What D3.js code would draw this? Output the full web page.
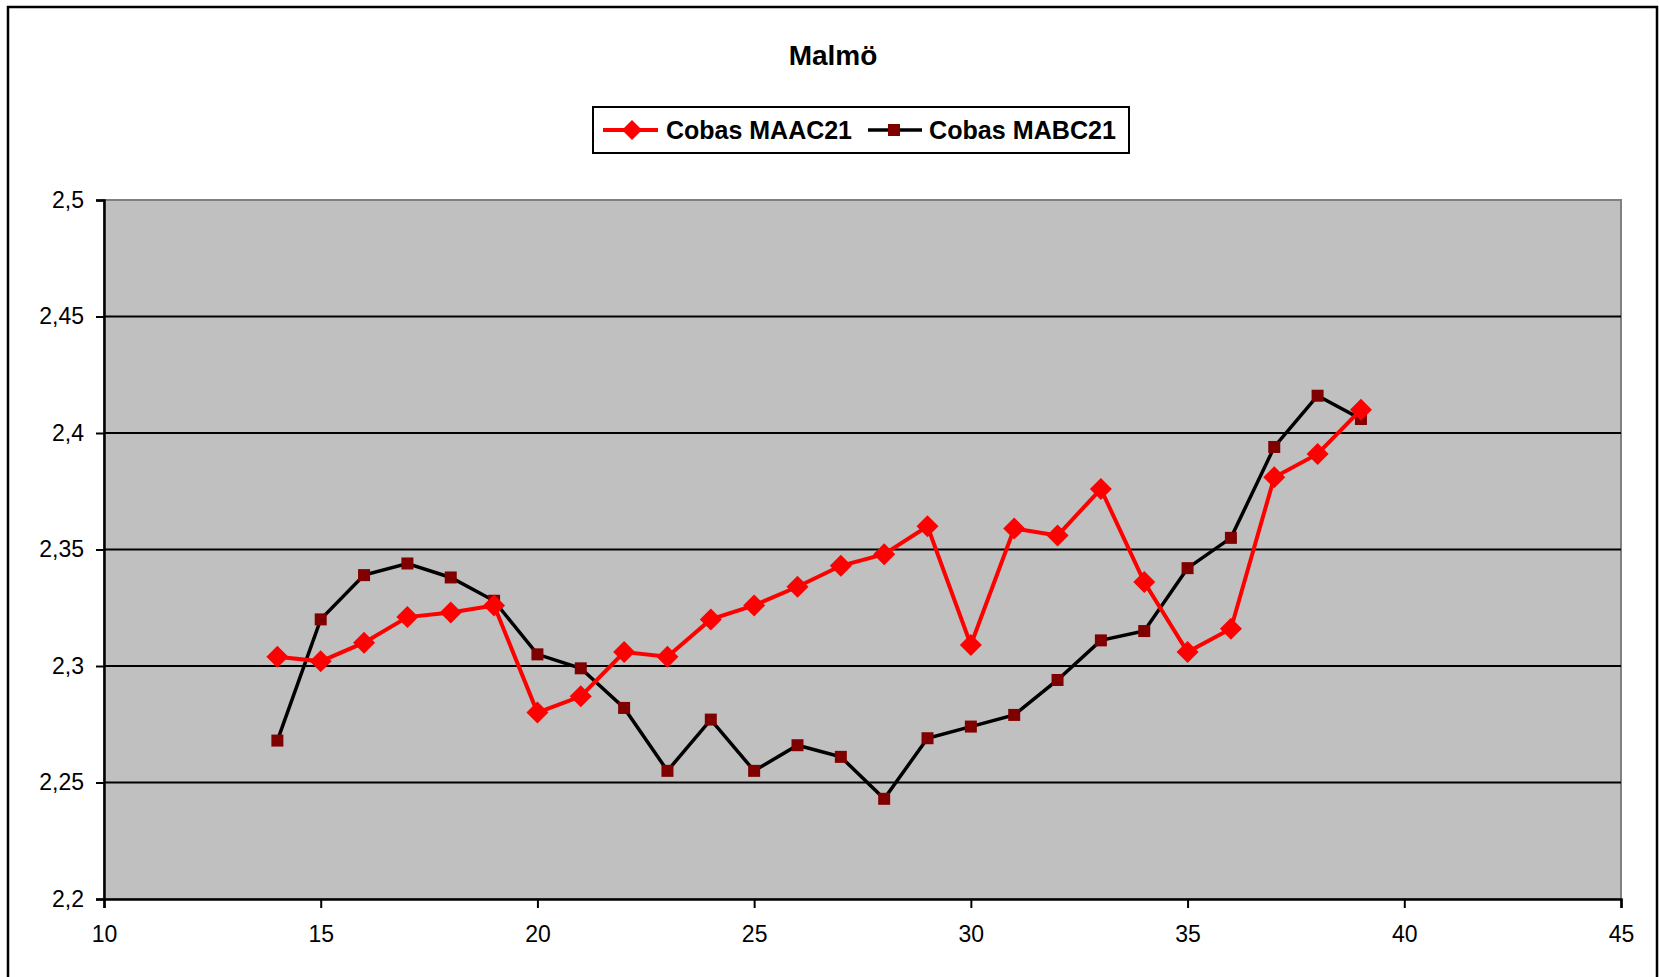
<!DOCTYPE html>
<html>
<head>
<meta charset="utf-8">
<script src="https://cdn.jsdelivr.net/npm/d3@7"></script>
<style>
  html, body { margin: 0; padding: 0; background: #fff; }
  svg { display: block; }
  text { font-family: Arial, "Liberation Sans", sans-serif; }
</style>
</head>
<body>
<svg id="chart" width="1659" height="977"></svg>
<script>
const title = "Malmö";
const seriesNames = ["Cobas MAAC21", "Cobas MABC21"];
const weeks = [14,15,16,17,18,19,20,21,22,23,24,25,26,27,28,29,30,31,32,33,34,35,36,37,38,39];
const maac21 = [2.304,2.302,2.310,2.321,2.323,2.326,2.280,2.287,2.306,2.304,2.320,2.326,2.334,2.343,2.348,2.360,2.309,2.359,2.356,2.376,2.336,2.306,2.316,2.381,2.391,2.410];
const mabc21 = [2.268,2.320,2.339,2.344,2.338,2.328,2.305,2.299,2.282,2.255,2.277,2.255,2.266,2.261,2.243,2.269,2.274,2.279,2.294,2.311,2.315,2.342,2.355,2.394,2.416,2.406];
const xTicks = [10,15,20,25,30,35,40,45];
const yTicks = [2.2,2.25,2.3,2.35,2.4,2.45,2.5];

const svg = d3.select("#chart");
const L = 104, R = 1621, T = 200, B = 899;

const x = d3.scaleLinear().domain([10,45]).range([L,R]);
const y = d3.scaleLinear().domain([2.2,2.5]).range([B,T]);
const fmt = d => d3.format("")(d).replace(".", ",");

// outer border
svg.append("rect").attr("x",8).attr("y",7).attr("width",1649).attr("height",990)
  .attr("fill","#fff").attr("stroke","#000").attr("stroke-width",2.5);

// plot area
svg.append("rect").attr("x",L).attr("y",T).attr("width",R-L).attr("height",B-T)
  .attr("fill","#C0C0C0").attr("stroke","#808080").attr("stroke-width",2);

// gridlines
svg.append("g").selectAll("line").data(yTicks.filter(v => v > 2.2 && v < 2.5)).join("line")
  .attr("x1",L).attr("x2",R).attr("y1",d=>y(d)).attr("y2",d=>y(d))
  .attr("stroke","#000").attr("stroke-width",2);

// axes
const yAxis = svg.append("g").attr("transform",`translate(${L},0)`)
  .call(d3.axisLeft(y).tickValues(yTicks).tickFormat(fmt).tickSize(8).tickPadding(12));
const xAxis = svg.append("g").attr("transform",`translate(0,${B})`)
  .call(d3.axisBottom(x).tickValues(xTicks).tickFormat(d3.format("d")).tickSize(9).tickPadding(18));
[yAxis, xAxis].forEach(g => {
  g.select(".domain").attr("stroke","#000").attr("stroke-width",2.5);
  g.selectAll(".tick line").attr("stroke","#000").attr("stroke-width",2);
  g.selectAll(".tick text").attr("fill","#000").style("font-size","23px")
    .style("font-family","Arial, 'Liberation Sans', sans-serif");
});

// lines
const mk = vals => weeks.map((w,i) => [w, vals[i]]);
const line = d3.line().x(d => x(d[0])).y(d => y(d[1]));
const dMABC = mk(mabc21), dMAAC = mk(maac21);

svg.append("path").datum(dMABC).attr("d",line).attr("fill","none")
  .attr("stroke","#000").attr("stroke-width",3.5).attr("stroke-linejoin","miter");
svg.append("g").selectAll("rect").data(dMABC).join("rect")
  .attr("x",d=>x(d[0])-6).attr("y",d=>y(d[1])-6).attr("width",12).attr("height",12)
  .attr("fill","#800000");

svg.append("path").datum(dMAAC).attr("d",line).attr("fill","none")
  .attr("stroke","#FF0000").attr("stroke-width",4).attr("stroke-linejoin","miter");
const diamond = (cx, cy, r) => `M${cx},${cy-r}L${cx+r},${cy}L${cx},${cy+r}L${cx-r},${cy}Z`;
svg.append("g").selectAll("path").data(dMAAC).join("path")
  .attr("d",d=>diamond(x(d[0]), y(d[1]), 11)).attr("fill","#FF0000");

// title
svg.append("text").attr("x",833).attr("y",65).attr("text-anchor","middle")
  .style("font-size","28px").style("font-weight","bold").text(title);

// legend
const lg = svg.append("g");
lg.append("rect").attr("x",593).attr("y",107).attr("width",536).attr("height",46)
  .attr("fill","#fff").attr("stroke","#000").attr("stroke-width",2);
lg.append("line").attr("x1",603).attr("x2",658).attr("y1",130).attr("y2",130)
  .attr("stroke","#FF0000").attr("stroke-width",4);
lg.append("path").attr("d",diamond(632,130,10)).attr("fill","#FF0000");
lg.append("text").attr("x",666).attr("y",139).style("font-size","26px").style("font-weight","bold")
  .attr("textLength",186).attr("lengthAdjust","spacingAndGlyphs").text(seriesNames[0]);
lg.append("line").attr("x1",868).attr("x2",922).attr("y1",130).attr("y2",130)
  .attr("stroke","#000").attr("stroke-width",3.5);
lg.append("rect").attr("x",888).attr("y",124).attr("width",12).attr("height",12).attr("fill","#800000");
lg.append("text").attr("x",929).attr("y",139).style("font-size","26px").style("font-weight","bold")
  .attr("textLength",187).attr("lengthAdjust","spacingAndGlyphs").text(seriesNames[1]);
</script>
</body>
</html>
